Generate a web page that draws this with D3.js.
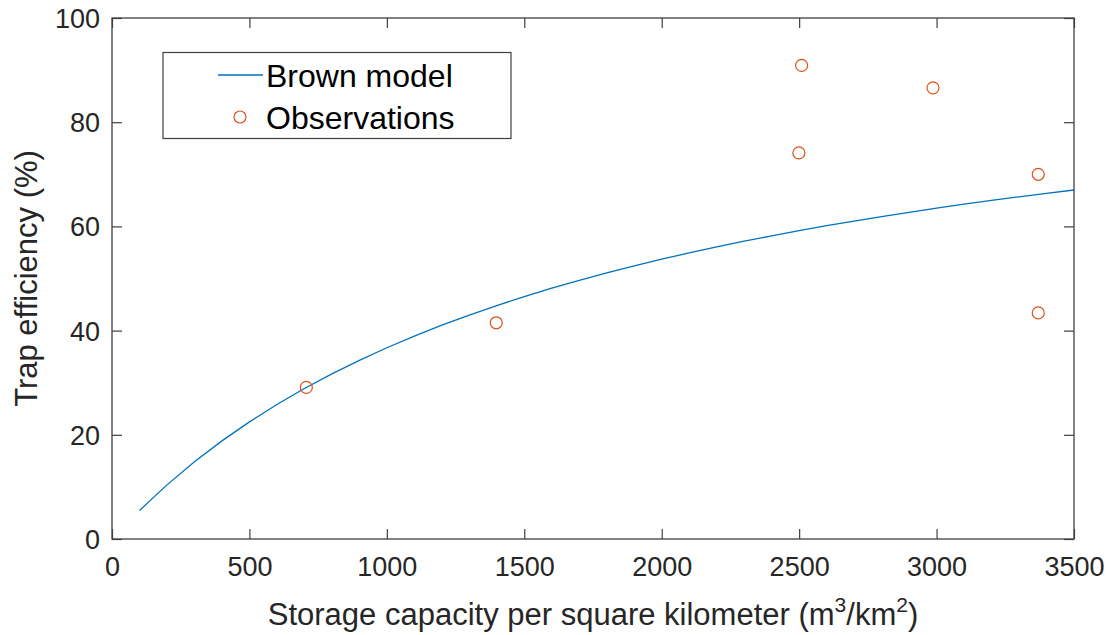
<!DOCTYPE html>
<html>
<head>
<meta charset="utf-8">
<script src="https://cdn.jsdelivr.net/npm/d3@7"></script>
<style>
  html, body { margin: 0; padding: 0; background: #fff; }
  svg { display: block; font-family: "Liberation Sans", Arial, Helvetica, sans-serif; }
</style>
</head>
<body>
<svg id="chart" width="1112" height="635"></svg>
<script>
// ---- data ----
const modelX = [100,200,300,400,500,600,700,800,900,1000,1100,1200,1300,1400,1500,1600,1700,1800,1900,2000,2100,2200,2300,2400,2500,2600,2700,2800,2900,3000,3100,3200,3300,3400,3500];
const modelY = [5.48,10.39,14.82,18.83,22.48,25.82,28.88,31.69,34.30,36.71,38.95,41.04,42.99,44.81,46.52,48.13,49.65,51.08,52.43,53.70,54.91,56.06,57.16,58.19,59.18,60.13,61.03,61.89,62.71,63.50,64.26,64.99,65.68,66.35,66.99];
const obsX = [707, 1398, 2499, 2509, 2987, 3370, 3370];
const obsY = [29.1, 41.5, 74.1, 90.9, 86.6, 70.0, 43.4];
const xTicks = [0, 500, 1000, 1500, 2000, 2500, 3000, 3500];
const yTicks = [0, 20, 40, 60, 80, 100];
const legendLabels = ["Brown model", "Observations"];

// ---- layout ----
const W = 1112, H = 635;
const m = { left: 112, top: 18, right: 38, bottom: 96 };
const pw = W - m.left - m.right, ph = H - m.top - m.bottom;
const axisColor = "#404040", tickText = "#262626";
const lineColor = "#0072BD", obsColor = "#D95319";

const svg = d3.select("#chart");
const g = svg.append("g").attr("transform", `translate(${m.left},${m.top})`);

const x = d3.scaleLinear().domain([0, 3500]).range([0, pw]);
const y = d3.scaleLinear().domain([0, 100]).range([ph, 0]);

// axes
const xAxis = g.append("g").attr("transform", `translate(0,${ph})`)
  .call(d3.axisBottom(x).tickValues(xTicks).tickSizeInner(-10).tickSizeOuter(0).tickPadding(18).tickFormat(d3.format("d")));
const yAxis = g.append("g")
  .call(d3.axisLeft(y).tickValues(yTicks).tickSizeInner(-10).tickSizeOuter(0).tickPadding(12).tickFormat(d3.format("d")));
const xTop = g.append("g")
  .call(d3.axisTop(x).tickValues(xTicks).tickSizeInner(-10).tickSizeOuter(0).tickFormat(""));
const yRight = g.append("g").attr("transform", `translate(${pw},0)`)
  .call(d3.axisRight(y).tickValues(yTicks).tickSizeInner(-10).tickSizeOuter(0).tickFormat(""));

[xAxis, yAxis, xTop, yRight].forEach(a => {
  a.select(".domain").remove();
  a.selectAll(".tick line").attr("stroke", axisColor).attr("stroke-width", 1.2);
  a.selectAll(".tick text").attr("fill", tickText).attr("font-size", 27)
    .attr("font-family", '"Liberation Sans", Arial, sans-serif');
});
xAxis.selectAll(".tick text").attr("dy", "0.71em");
yAxis.selectAll(".tick text").attr("dy", "0.35em");

// box
g.append("rect").attr("x", 0).attr("y", 0).attr("width", pw).attr("height", ph)
  .attr("fill", "none").attr("stroke", axisColor).attr("stroke-width", 1.3);

// model line
const line = d3.line().x((d, i) => x(modelX[i])).y(d => y(d));
g.append("path").datum(modelY).attr("d", line)
  .attr("fill", "none").attr("stroke", lineColor).attr("stroke-width", 1.3);

// observations
g.selectAll("circle.obs").data(obsX).enter().append("circle")
  .attr("class", "obs")
  .attr("cx", d => x(d)).attr("cy", (d, i) => y(obsY[i]))
  .attr("r", 6).attr("fill", "none").attr("stroke", obsColor).attr("stroke-width", 1.2);

// axis labels
svg.append("text").attr("x", m.left + pw / 2).attr("y", 625)
  .attr("text-anchor", "middle").attr("fill", tickText).attr("font-size", 31)
  .html('Storage capacity per square kilometer (m<tspan dy="-13" font-size="21">3</tspan><tspan dy="13">/km</tspan><tspan dy="-13" font-size="21">2</tspan><tspan dy="13">)</tspan>');

svg.append("text")
  .attr("transform", `translate(37,${m.top + ph / 2}) rotate(-90)`)
  .attr("text-anchor", "middle").attr("fill", tickText).attr("font-size", 31)
  .text("Trap efficiency (%)");

// legend
const lg = svg.append("g");
lg.append("rect").attr("x", 163).attr("y", 52.5).attr("width", 348).attr("height", 86)
  .attr("fill", "#fff").attr("stroke", axisColor).attr("stroke-width", 1.2);
lg.append("line").attr("x1", 218).attr("x2", 263).attr("y1", 75).attr("y2", 75)
  .attr("stroke", lineColor).attr("stroke-width", 1.3);
lg.append("circle").attr("cx", 240).attr("cy", 117).attr("r", 6)
  .attr("fill", "none").attr("stroke", obsColor).attr("stroke-width", 1.2);
lg.selectAll("text.leg").data(legendLabels).enter().append("text")
  .attr("class", "leg")
  .attr("x", 266).attr("y", (d, i) => 87 + i * 42)
  .attr("font-size", 32).attr("fill", "#000").text(d => d);
</script>
</body>
</html>
